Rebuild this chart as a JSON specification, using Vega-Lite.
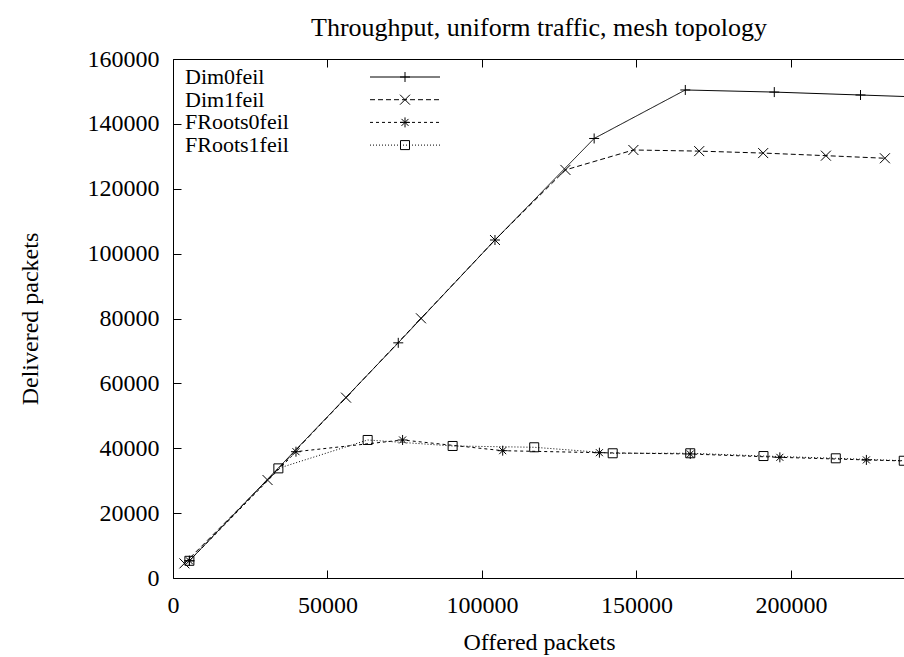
{
  "$schema": "https://vega.github.io/schema/vega-lite/v6.json",
  "autosize": {"type": "none"},
  "padding": {"left": 173, "top": 59, "right": 0, "bottom": 79},
  "width": 732,
  "height": 519,
  "background": "white",
  "config": {
    "font": "Liberation Serif",
    "view": {"stroke": "black", "strokeWidth": 1},
    "axis": {"labelFont": "Liberation Serif", "titleFont": "Liberation Serif", "labelColor": "black", "titleColor": "black", "tickColor": "black", "domain": false, "grid": false, "titleFontWeight": "normal"},
    "legend": {"labelFont": "Liberation Serif", "labelColor": "black"}
  },
  "title": {"text": "Throughput, uniform traffic, mesh topology", "font": "Liberation Serif", "fontSize": 26, "fontWeight": "normal", "color": "black", "anchor": "middle", "offset": 6},
  "data": {"values": [
    {"series": "Dim0feil", "x": 5300, "y": 5300},
    {"series": "Dim0feil", "x": 72900, "y": 72500},
    {"series": "Dim0feil", "x": 104200, "y": 104200},
    {"series": "Dim0feil", "x": 136300, "y": 135500},
    {"series": "Dim0feil", "x": 165800, "y": 150450},
    {"series": "Dim0feil", "x": 194600, "y": 149800},
    {"series": "Dim0feil", "x": 222500, "y": 148900},
    {"series": "Dim0feil", "x": 250000, "y": 148000},
    {"series": "Dim1feil", "x": 3700, "y": 4500},
    {"series": "Dim1feil", "x": 30600, "y": 30200},
    {"series": "Dim1feil", "x": 56000, "y": 55600},
    {"series": "Dim1feil", "x": 80250, "y": 80060},
    {"series": "Dim1feil", "x": 104200, "y": 104200},
    {"series": "Dim1feil", "x": 127000, "y": 125800},
    {"series": "Dim1feil", "x": 149000, "y": 131950},
    {"series": "Dim1feil", "x": 170300, "y": 131600},
    {"series": "Dim1feil", "x": 191000, "y": 131000},
    {"series": "Dim1feil", "x": 211300, "y": 130200},
    {"series": "Dim1feil", "x": 230400, "y": 129400},
    {"series": "FRoots0feil", "x": 5300, "y": 5300},
    {"series": "FRoots0feil", "x": 39800, "y": 38940},
    {"series": "FRoots0feil", "x": 74300, "y": 42550},
    {"series": "FRoots0feil", "x": 106700, "y": 39250},
    {"series": "FRoots0feil", "x": 138000, "y": 38630},
    {"series": "FRoots0feil", "x": 167400, "y": 38230},
    {"series": "FRoots0feil", "x": 196400, "y": 37200},
    {"series": "FRoots0feil", "x": 224400, "y": 36400},
    {"series": "FRoots0feil", "x": 252000, "y": 35700},
    {"series": "FRoots1feil", "x": 5300, "y": 5300},
    {"series": "FRoots1feil", "x": 34100, "y": 33800},
    {"series": "FRoots1feil", "x": 63000, "y": 42550},
    {"series": "FRoots1feil", "x": 90500, "y": 40700},
    {"series": "FRoots1feil", "x": 116900, "y": 40300},
    {"series": "FRoots1feil", "x": 142300, "y": 38450},
    {"series": "FRoots1feil", "x": 167400, "y": 38450},
    {"series": "FRoots1feil", "x": 191100, "y": 37600},
    {"series": "FRoots1feil", "x": 214500, "y": 36900},
    {"series": "FRoots1feil", "x": 236500, "y": 36150}
  ]},
  "resolve": {"axis": {"x": "independent"}},
  "layer": [
    {
      "mark": {"type": "line", "color": "black", "strokeWidth": 1, "clip": true},
      "encoding": {
        "x": {"field": "x", "type": "quantitative", "scale": {"domain": [0, 236900], "nice": false},
              "axis": {"orient": "bottom", "values": [0, 50000, 100000, 150000, 200000], "tickSize": -8, "labelPadding": 23, "labelFontSize": 24, "labelFlush": false, "title": "Offered packets", "titleFontSize": 24, "titlePadding": 13, "format": "d"}},
        "y": {"field": "y", "type": "quantitative", "scale": {"domain": [0, 160000], "nice": false},
              "axis": {"orient": "left", "values": [0, 20000, 40000, 60000, 80000, 100000, 120000, 140000, 160000], "tickSize": -8, "labelPadding": 22, "labelFontSize": 24, "labelFlush": false, "title": "Delivered packets", "titleFontSize": 24, "titlePadding": 45, "format": "d"}},
        "strokeDash": {"field": "series", "type": "nominal",
              "scale": {"domain": ["Dim0feil", "Dim1feil", "FRoots0feil", "FRoots1feil"], "range": [[1, 0], [5, 3], [3, 3], [1, 2]]},
              "legend": {"orient": "none", "legendX": 221, "legendY": 7, "title": null, "symbolType": "M-7,0L7,0", "symbolSize": 100, "symbolStrokeWidth": 1, "symbolStrokeColor": "black", "symbolFillColor": "transparent", "labelOffset": -231, "labelFontSize": 22, "labelLimit": 400, "rowPadding": 0.7, "padding": 0}}
      }
    },
    {
      "mark": {"type": "point", "filled": false, "stroke": "black", "strokeWidth": 1, "size": 100, "opacity": 1, "clip": true},
      "encoding": {
        "x": {"field": "x", "type": "quantitative", "axis": null},
        "y": {"field": "y", "type": "quantitative",
              "axis": {"orient": "left", "values": [0, 20000, 40000, 60000, 80000, 100000, 120000, 140000, 160000], "tickSize": -8, "labelPadding": 22, "labelFontSize": 24, "labelFlush": false, "title": "Delivered packets", "titleFontSize": 24, "titlePadding": 45, "format": "d"}},
        "shape": {"field": "series", "type": "nominal",
              "scale": {"range": ["M-1,0L1,0M0,-1L0,1", "M-1,-1L1,1M-1,1L1,-1", "M-1,0L1,0M0,-1L0,1M-0.7,-0.7L0.7,0.7M-0.7,0.7L0.7,-0.7", "M-0.9,-0.9L0.9,-0.9L0.9,0.9L-0.9,0.9Z"]},
              "legend": {"orient": "none", "legendX": 221, "legendY": 7, "title": null, "symbolSize": 100, "symbolStrokeColor": "black", "symbolFillColor": "transparent", "symbolStrokeWidth": 1, "labelOpacity": 0, "labelFontSize": 22, "rowPadding": 0.7, "padding": 0}}
      }
    },
    {
      "mark": {"type": "point", "opacity": 0, "clip": true},
      "encoding": {
        "x": {"field": "x", "type": "quantitative",
              "axis": {"orient": "top", "values": [0, 50000, 100000, 150000, 200000], "tickSize": -8, "labels": false, "title": null}}
      }
    }
  ]
}
